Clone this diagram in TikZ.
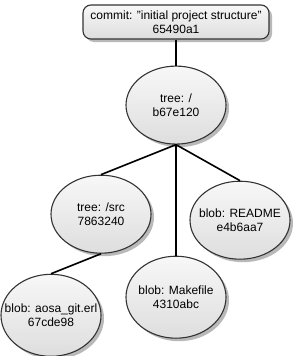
\documentclass[tikz,border=0pt]{standalone}
\usepackage{fontspec}
\setmainfont{Liberation Sans}
\usepackage{tikz}
\usetikzlibrary{positioning, shapes.geometric, shadows}
\tikzset{
  gitobj/.style={draw=black!80, line width=1.1pt, top color=gray!6, bottom color=gray!26,
                 align=center, font=\fontsize{12}{13.5}\selectfont,
                 drop shadow={shadow xshift=3pt, shadow yshift=-3pt, fill=gray!55, opacity=1}},
  commitbox/.style={gitobj, rectangle, rounded corners=8pt, minimum width=186pt, minimum height=34pt, inner sep=0pt},
  objnode/.style={gitobj, ellipse, minimum width=100pt, minimum height=78pt, inner xsep=-14pt, inner ysep=0pt},
  link/.style={line width=1.6pt, black}
}
\begin{document}
\begin{tikzpicture}[x=1pt, y=-1pt]
\useasboundingbox (0,0) rectangle (299,356);

% Commit
\node[commitbox] (commit) at (176,22) {commit: "initial project structure"\\65490a1};

% Trees
\node[objnode, below=26pt of commit] (root) {tree: /\\b67e120};
\node[objnode, below=30pt of root, xshift=-75pt] (src) {tree: /src\\7863240};

% Blobs
\node[objnode, below=36pt of root, xshift=64pt] (readme) {blob: README\\e4b6aa7};
\node[objnode, below=111pt of root, minimum height=82pt] (makefile) {blob: Makefile\\4310abc};
\node[objnode, below=20pt of src, xshift=-50pt, minimum height=82pt] (erl) {blob: aosa\_git.erl\\67cde98};

% Links
\draw[link] (commit.south) -- (root.north);
\draw[link] (root.south) -- (src.north);
\draw[link] (root.south) -- (makefile.north);
\draw[link] (root.south) -- (readme.north);
\draw[link] (src.south) -- (erl.north);

\end{tikzpicture}
\end{document}
